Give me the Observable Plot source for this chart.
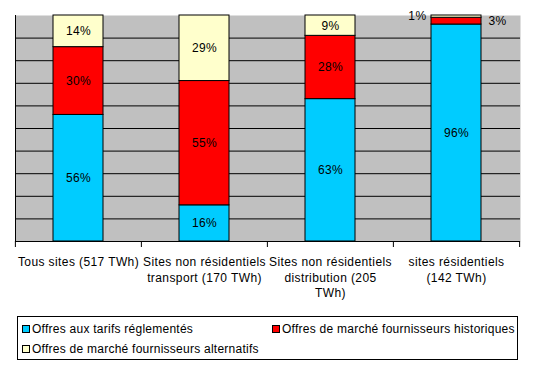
<!DOCTYPE html>
<html>
<head>
<meta charset="utf-8">
<script src="https://cdn.jsdelivr.net/npm/d3@7"></script>
<script src="https://cdn.jsdelivr.net/npm/@observablehq/plot@0.6"></script>
<style>
  html, body { margin: 0; padding: 0; background: #fff; }
  body { font-family: "Liberation Sans", Arial, sans-serif; }
  #wrap { position: relative; width: 535px; height: 367px; }
  #chart svg { display: block; }
  #legend {
    position: absolute; left: 17px; top: 316px; width: 501px; height: 44px;
    box-sizing: border-box; border: 1px solid #000; font-size: 12px; color: #000;
    letter-spacing: 0.25px;
  }
  .item { position: absolute; display: flex; align-items: center; white-space: nowrap; }
  .sw { width: 6px; height: 6px; border: 1px solid #000; margin-right: 2px; }
</style>
</head>
<body>
<div id="wrap">
  <div id="chart"></div>
  <div id="legend"></div>
</div>
<script>
// ---- data ----
const categories = ["Tous sites", "Transport", "Distribution", "Résidentiels"];
const categoryLabels = [
  "Tous sites (517 TWh)",
  "Sites non résidentiels\ntransport (170 TWh)",
  "Sites non résidentiels\ndistribution (205\nTWh)",
  "sites résidentiels\n(142 TWh)"
];
const seriesNames = [
  "Offres aux tarifs réglementés",
  "Offres de marché fournisseurs historiques",
  "Offres de marché fournisseurs alternatifs"
];
const seriesColors = ["#00ccff", "#ff0000", "#ffffcc"];
const regulated  = [56, 16, 63, 96];
const historical = [30, 55, 28, 3];
const alternative = [14, 29, 9, 1];
const gridTicks = [10, 20, 30, 40, 50, 60, 70, 80, 90];

// ---- table built from arrays ----
const seriesValues = [regulated, historical, alternative];
const data = [];
categories.forEach((c, ci) => {
  seriesValues.forEach((vals, si) => {
    data.push({cat: c, series: seriesNames[si], si, value: vals[ci]});
  });
});
const labelOf = new Map(categories.map((c, i) => [c, categoryLabels[i]]));

const W = 535, H = 305;
const step = (W - 15 - 15) / categories.length;
const font = "'Liberation Sans', Arial, sans-serif";

const chart = Plot.plot({
  width: W,
  height: H,
  marginTop: 15,
  marginBottom: 64,
  marginLeft: 15,
  marginRight: 15,
  style: {fontFamily: font, fontSize: "12px", color: "#000", background: "#fff", overflow: "visible", letterSpacing: "0.4px"},
  x: {domain: categories, paddingInner: 0.6, paddingOuter: 0.3, axis: null, label: null},
  y: {domain: [0, 100], axis: null, label: null},
  color: {domain: seriesNames, range: seriesColors},
  marks: [
    Plot.frame({fill: "#c0c0c0", stroke: null}),
    Plot.ruleY(gridTicks, {stroke: "#000", strokeWidth: 1}),
    Plot.frame({anchor: "left", stroke: "#000"}),
    Plot.barY(data, {x: "cat", y: "value", fill: "series", stroke: "#000", strokeWidth: 1}),
    Plot.text(data, Plot.stackY({
      x: "cat", y: "value",
      text: d => d.value >= 5 ? `${d.value}%` : "",
      fontSize: 12, fill: "#000"
    })),
    Plot.text(data, Plot.stackY({
      x: "cat", y: "value",
      text: d => d.value < 5 && d.si === 1 ? `${d.value}%` : "",
      textAnchor: "start", dx: 32, fontSize: 12, fill: "#000"
    })),
    Plot.text(data, Plot.stackY({
      x: "cat", y: "value",
      text: d => d.value < 5 && d.si === 2 ? `${d.value}%` : "",
      textAnchor: "end", dx: -30, fontSize: 12, fill: "#000"
    })),
    Plot.ruleY([0], {stroke: "#000"}),
    // boundary ticks between categories
    Plot.axisX(categories, {tickSize: 6, dx: -step / 2, tickFormat: () => "", stroke: "#000", label: null}),
    Plot.axisX(categories.slice(-1), {tickSize: 6, dx: step / 2, tickFormat: () => "", stroke: "#000", label: null}),
    // category labels
    Plot.axisX(categories, {tickSize: 0, tickPadding: 14, tickFormat: d => labelOf.get(d), lineHeight: 1.28, fontSize: 12, fill: "#000", label: null})
  ]
});
document.getElementById("chart").appendChild(chart);

// ---- legend (HTML) ----
const legend = document.getElementById("legend");
const pos = [[4, 5], [254, 5], [4, 25]];
seriesNames.forEach((name, i) => {
  const it = document.createElement("div");
  it.className = "item";
  it.style.left = pos[i][0] + "px";
  it.style.top = pos[i][1] + "px";
  const sw = document.createElement("span");
  sw.className = "sw";
  sw.style.background = seriesColors[i];
  const tx = document.createElement("span");
  tx.textContent = name;
  it.appendChild(sw); it.appendChild(tx);
  legend.appendChild(it);
});
</script>
</body>
</html>
